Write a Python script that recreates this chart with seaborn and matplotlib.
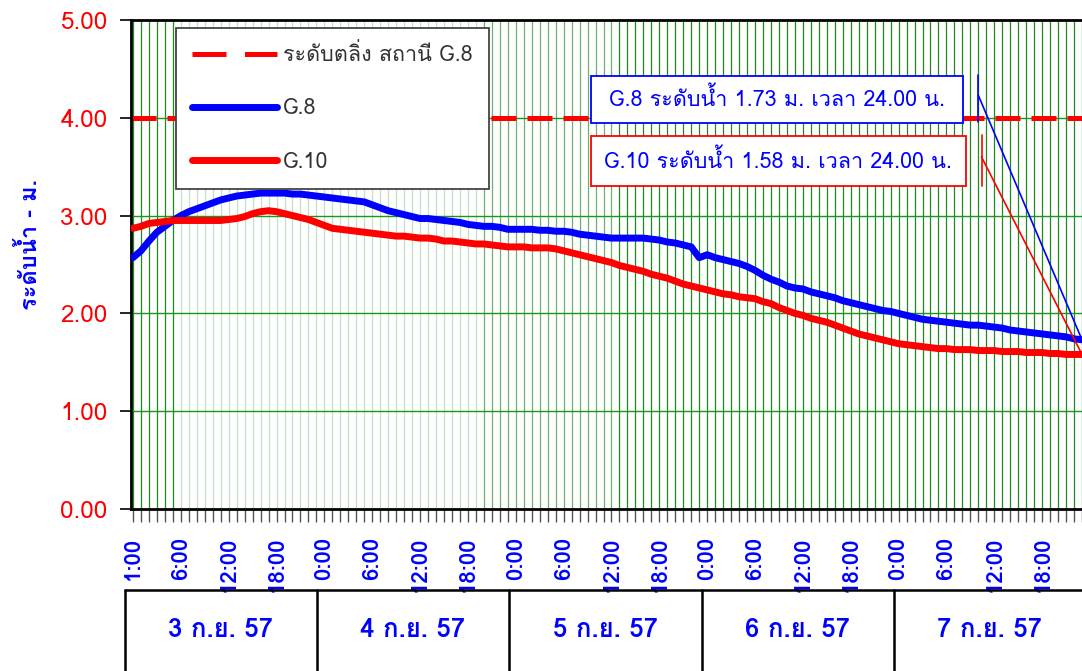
import matplotlib
matplotlib.use("Agg")
import matplotlib.pyplot as plt
import matplotlib.transforms as mtransforms
from matplotlib import font_manager
from matplotlib.lines import Line2D
from matplotlib.patches import Rectangle
import seaborn as sns
import pandas as pd

# hourly water level, 3-7 Sep 57 (index 0 = first reading)
g8_level = [
    2.57, 2.64, 2.74, 2.83, 2.89, 2.95, 3.00, 3.04, 3.07, 3.10, 3.13, 3.16,
    3.18, 3.20, 3.21, 3.22, 3.23, 3.23, 3.23, 3.23, 3.22, 3.22, 3.21, 3.20,
    3.19, 3.18, 3.17, 3.16, 3.15, 3.14, 3.11, 3.08, 3.05, 3.03, 3.01, 2.99,
    2.97, 2.97, 2.96, 2.95, 2.94, 2.93, 2.91, 2.90, 2.89, 2.89, 2.88, 2.86,
    2.86, 2.86, 2.86, 2.85, 2.85, 2.84, 2.84, 2.83, 2.81, 2.80, 2.79, 2.78,
    2.77, 2.77, 2.77, 2.77, 2.77, 2.76, 2.75, 2.73, 2.72, 2.70, 2.68, 2.57,
    2.60, 2.57, 2.55, 2.53, 2.51, 2.48, 2.44, 2.39, 2.35, 2.32, 2.28, 2.26,
    2.25, 2.22, 2.20, 2.18, 2.16, 2.13, 2.11, 2.09, 2.07, 2.05, 2.03, 2.02,
    2.00, 1.98, 1.96, 1.94, 1.93, 1.92, 1.91, 1.90, 1.89, 1.88, 1.88, 1.87,
    1.86, 1.85, 1.83, 1.82, 1.81, 1.80, 1.79, 1.78, 1.77, 1.76, 1.74, 1.73,
]
g10_level = [
    2.87, 2.89, 2.92, 2.93, 2.94, 2.95, 2.95, 2.95, 2.95, 2.95, 2.95, 2.95,
    2.96, 2.97, 2.99, 3.02, 3.04, 3.05, 3.04, 3.02, 3.00, 2.98, 2.96, 2.93,
    2.90, 2.87, 2.86, 2.85, 2.84, 2.83, 2.82, 2.81, 2.80, 2.79, 2.79, 2.78,
    2.77, 2.77, 2.76, 2.74, 2.74, 2.73, 2.72, 2.71, 2.71, 2.70, 2.69, 2.68,
    2.68, 2.68, 2.67, 2.67, 2.67, 2.66, 2.64, 2.62, 2.60, 2.58, 2.56, 2.54,
    2.52, 2.49, 2.47, 2.45, 2.43, 2.40, 2.38, 2.36, 2.33, 2.30, 2.28, 2.26,
    2.24, 2.22, 2.20, 2.19, 2.17, 2.16, 2.15, 2.12, 2.10, 2.06, 2.03, 2.00,
    1.98, 1.95, 1.93, 1.91, 1.88, 1.85, 1.82, 1.79, 1.77, 1.75, 1.73, 1.71,
    1.69, 1.68, 1.67, 1.66, 1.65, 1.64, 1.64, 1.63, 1.63, 1.63, 1.62, 1.62,
    1.62, 1.61, 1.61, 1.61, 1.60, 1.60, 1.60, 1.59, 1.59, 1.58, 1.58, 1.58,
]
warning_level = 4.0

hour_labels = ["1:00", "6:00", "12:00", "18:00", "0:00", "6:00", "12:00", "18:00",
               "0:00", "6:00", "12:00", "18:00", "0:00", "6:00", "12:00", "18:00",
               "0:00", "6:00", "12:00", "18:00"]
day_labels = ["3 ก.ย. 57", "4 ก.ย. 57", "5 ก.ย. 57", "6 ก.ย. 57", "7 ก.ย. 57"]
series_names = ["ระดับตลิ่ง สถานี G.8", "G.8", "G.10"]
note_g8 = "G.8 ระดับน้ำ 1.73 ม. เวลา 24.00 น."
note_g10 = "G.10 ระดับน้ำ 1.58 ม. เวลา 24.00 น."
y_title = "ระดับน้ำ - ม."


def thai_font():
    # pick an installed font that actually has Thai glyphs
    for f in font_manager.fontManager.ttflist:
        try:
            from fontTools.ttLib import TTFont
            cmap = TTFont(f.fname, fontNumber=0, lazy=True).getBestCmap()
            if cmap and 0x0E23 in cmap and 0x0E14 in cmap:
                return f.name
        except Exception:
            continue
    return "DejaVu Sans"


sns.set_theme(style="white")
thai = thai_font()
plt.rcParams["font.family"] = [thai, "DejaVu Sans"]

df = pd.DataFrame({
    "hour": list(range(len(g8_level))) * 2,
    "level": g8_level + g10_level,
    "station": ["G.8"] * len(g8_level) + ["G.10"] * len(g10_level),
})

fig = plt.figure(figsize=(10.82, 6.71), dpi=100)
ax = fig.add_axes([131 / 1082, 1 - 509 / 671, 951 / 1082, 489 / 671])

x_min = -0.25
x_max = x_min + 951 / 8.0
n = len(g8_level)

# hourly vertical grid (the original renders some stretches paler)
for h in range(n):
    if 6 <= h <= 43:
        c = "#c2e2c2"
    elif 44 <= h <= 60:
        c = "#6fb06f"
    else:
        c = "#1f8a1f"
    ax.axvline(h, color=c, lw=0.9, zorder=0)
for v in [1, 2, 3, 4]:
    ax.axhline(v, color="#1a961a", lw=1.0, zorder=0)

ax.axhline(warning_level, color="red", lw=3.6, dashes=(5, 2.2), zorder=2)
sns.lineplot(data=df, x="hour", y="level", hue="station",
             palette={"G.8": "blue", "G.10": "red"}, lw=5, ax=ax,
             zorder=3, legend=False)
for ln in ax.lines[-2:]:
    ln.set_solid_capstyle("round")
    ln.set_solid_joinstyle("round")

ax.set_xlim(x_min, x_max)
ax.set_ylim(0, 5)
ax.set_yticks([0, 1, 2, 3, 4, 5])
ax.set_yticklabels([f"{v:.2f}" for v in [0, 1, 2, 3, 4, 5]],
                   color="red", fontsize=17.5)
ax.tick_params(axis="y", length=8, width=1.2, color="black", pad=9, left=True)

ticks = list(range(n))
labels = [""] * n
for k, t in enumerate(range(0, n, 6)):
    labels[t] = hour_labels[k]
ax.set_xticks(ticks)
ax.set_xticklabels(labels, rotation=90, color="blue", fontsize=16,
                   fontweight="bold", va="top", ha="center")
ax.tick_params(axis="x", length=9, width=1.0, color="#555555", pad=11,
               bottom=True)
ax.set_xlabel("")
ax.set_ylabel("")

for s in ["left", "bottom", "top"]:
    ax.spines[s].set_color("black")
    ax.spines[s].set_linewidth(2)
ax.spines["right"].set_visible(False)

fig.text(30 / 1082, 1 - 245 / 671, y_title, rotation=90, color="blue",
         fontsize=17, fontweight="bold", ha="center", va="center")

handles = [
    Line2D([], [], color="red", lw=3.6, dashes=(6.8, 3.7)),
    Line2D([], [], color="blue", lw=5, solid_capstyle="round"),
    Line2D([], [], color="red", lw=5, solid_capstyle="round"),
]
leg = ax.legend(handles, series_names, loc="upper left",
                bbox_to_anchor=(45 / 951, 481 / 489),
                fontsize=15.5, handlelength=3.95, handletextpad=0.28,
                labelspacing=1.5, borderpad=0.75, borderaxespad=0,
                frameon=True, fancybox=False, framealpha=1)
leg.get_frame().set_edgecolor("#444444")
leg.get_frame().set_linewidth(1.3)
for t in leg.get_texts():
    t.set_color("#333333")

# data-label boxes with leader lines
ax.add_patch(Rectangle((57.4, 3.95), 46.7, 0.48, fill=True, fc="white",
                       ec="blue", lw=1.3, zorder=5))
ax.text(80.75, 4.19, note_g8, color="blue", fontsize=15.5, ha="center",
        va="center", zorder=6)
ax.add_patch(Rectangle((57.4, 3.30), 47.1, 0.51, fill=True, fc="white",
                       ec="red", lw=1.3, zorder=5))
ax.text(80.9, 3.555, note_g10, color="blue", fontsize=15.5, ha="center",
        va="center", zorder=6)
ax.plot([106.0, 106.0], [3.96, 4.44], color="blue", lw=1.2, zorder=6)
ax.plot([106.0, n - 1], [4.23, g8_level[-1]], color="blue", lw=1.2, zorder=6)
ax.plot([106.4, 106.4], [3.30, 3.82], color="red", lw=1.2, zorder=6)
ax.plot([106.4, n - 1], [3.60, g10_level[-1]], color="red", lw=1.2, zorder=6)

# date table under the axis
trans = mtransforms.blended_transform_factory(ax.transData, fig.transFigure)
y_top = 1 - 590 / 671
ax.plot([-1, x_max + 2], [y_top, y_top], color="black", lw=1.8,
        transform=trans, clip_on=False)
for d in range(len(day_labels)):
    x0 = 24.1 * d - 1
    ax.plot([x0, x0], [0, y_top], color="black", lw=1.8, transform=trans,
            clip_on=False)
    ax.text(x0 + 12, 1 - 630 / 671, day_labels[d], color="blue", fontsize=18.5,
            fontweight="bold", ha="center", va="center", transform=trans)

fig.savefig("out.png", dpi=100)
plt.close(fig)
